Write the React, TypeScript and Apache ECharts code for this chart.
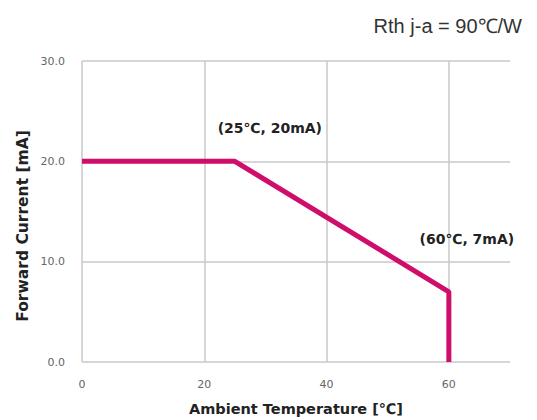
import React, { useEffect, useRef } from "react";
import * as echarts from "echarts";

// Derating curve: forward current vs ambient temperature
const temperatures = [0, 25, 60, 60];
const currents = [20, 20, 7, 0];
const pointLabels = ["", "(25℃, 20mA)", "(60℃, 7mA)", ""];
const xTickValues = [0, 20, 40, 60];
const yTickValues = [0, 10, 20, 30];
const thermalNote = "Rth j-a = 90℃/W";
const xTitle = "Ambient Temperature [℃]";
const yTitle = "Forward Current [mA]";

const LINE_COLOR = "#cf0d6a";
const GRID_COLOR = "#c9c9c9";

export default function App() {
  const ref = useRef<HTMLDivElement>(null);

  useEffect(() => {
    if (!ref.current) return;
    const chart = echarts.init(ref.current, null, { renderer: "svg" });

    const labelOffsets: Record<number, [number, number]> = {
      1: [35, -33],
      2: [18, -53],
    };

    chart.setOption({
      animation: false,
      backgroundColor: "#ffffff",
      textStyle: { fontFamily: "DejaVu Sans" },
      grid: { left: 82, top: 61, width: 428, height: 301, containLabel: false },
      title: {
        text: thermalNote,
        right: 10,
        top: 11,
        textStyle: {
          fontFamily: "Liberation Sans",
          fontSize: 20,
          fontWeight: "normal",
          color: "#333333",
        },
      },
      graphic: [
        {
          type: "text",
          x: 296,
          y: 409,
          style: {
            text: xTitle,
            fontFamily: "DejaVu Sans",
            fontSize: 14.5,
            fontWeight: "bold",
            fill: "#222222",
            align: "center",
            verticalAlign: "middle",
          },
        },
        {
          type: "text",
          x: 23,
          y: 226,
          rotation: Math.PI / 2,
          style: {
            text: yTitle,
            fontFamily: "DejaVu Sans",
            fontSize: 15.5,
            fontWeight: "bold",
            fill: "#222222",
            align: "center",
            verticalAlign: "middle",
          },
        },
      ],
      xAxis: {
        type: "value",
        min: 0,
        max: 70,
        interval: 20,
        axisLine: { show: false },
        axisTick: { show: false },
        axisLabel: {
          color: "#666666",
          fontSize: 11,
          margin: 17,
          showMaxLabel: false,
          formatter: (v: number) => (xTickValues.includes(v) ? String(v) : ""),
        },
        splitLine: {
          show: true,
          showMaxLine: false,
          lineStyle: { color: GRID_COLOR, width: 1.5 },
        },
      },
      yAxis: {
        type: "value",
        min: 0,
        max: 30,
        interval: 10,
        axisLine: { show: false },
        axisTick: { show: false },
        axisLabel: {
          color: "#666666",
          fontSize: 11,
          margin: 17,
          formatter: (v: number) => (yTickValues.includes(v) ? v.toFixed(1) : ""),
        },
        splitLine: {
          show: true,
          lineStyle: { color: GRID_COLOR, width: 1.5 },
        },
      },
      series: [
        {
          type: "line",
          data: temperatures.map((t, i) => {
            const item: any = { value: [t, currents[i]] };
            if (pointLabels[i]) {
              item.label = {
                show: true,
                formatter: pointLabels[i],
                offset: labelOffsets[i],
                position: "inside",
                fontSize: 14,
                fontWeight: "bold",
                color: "#222222",
              };
            }
            return item;
          }),
          showSymbol: true,
          symbol: "circle",
          symbolSize: 0,
          lineStyle: { color: LINE_COLOR, width: 5 },
          itemStyle: { color: LINE_COLOR },
        },
      ],
    });

    return () => chart.dispose();
  }, []);

  return (
    <div
      ref={ref}
      style={{ position: "fixed", left: 0, top: 0, width: 537, height: 420 }}
    />
  );
}
